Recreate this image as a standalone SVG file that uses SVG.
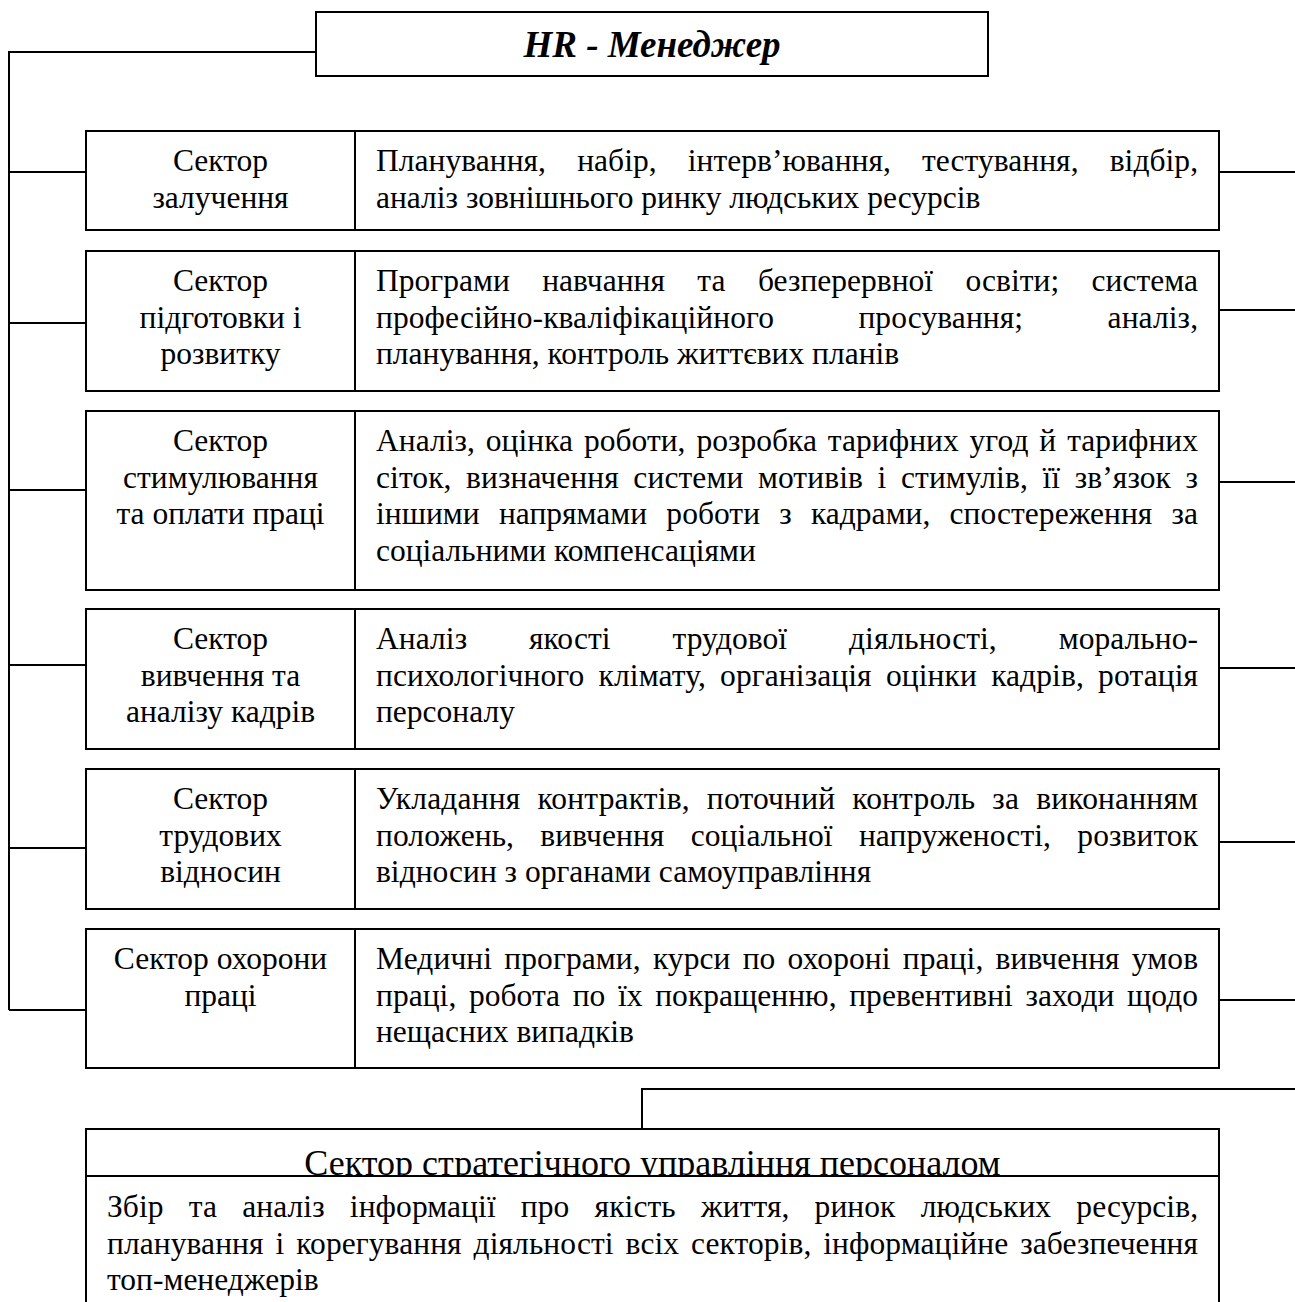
<svg xmlns="http://www.w3.org/2000/svg" width="1295" height="1302" viewBox="0 0 1295 1302">
<style>
.bx{fill:#fff;stroke:#000;stroke-width:2}
.ln{fill:none;stroke:#000;stroke-width:2}
.cn{fill:none;stroke:#000;stroke-width:2}
text{font-family:"Liberation Serif","Times New Roman",serif;font-size:31.5px;fill:#000}
.c{text-anchor:middle}
.hr{font-weight:bold;font-style:italic;font-size:37px}
.h2{font-size:36px}
</style>
<defs>
<clipPath id="hclip"><rect x="86" y="1129" width="1133" height="47"/></clipPath>
</defs>
<rect width="1295" height="1302" fill="#fff"/>
<g id="connectors">
<polyline class="cn" points="316,52 9,52 9,1010"/>
<line class="cn" x1="9" y1="172" x2="86" y2="172"/>
<line class="cn" x1="9" y1="323" x2="86" y2="323"/>
<line class="cn" x1="9" y1="490" x2="86" y2="490"/>
<line class="cn" x1="9" y1="665" x2="86" y2="665"/>
<line class="cn" x1="9" y1="848" x2="86" y2="848"/>
<line class="cn" x1="9" y1="1010" x2="86" y2="1010"/>
<line class="cn" x1="1219" y1="172" x2="1295" y2="172"/>
<line class="cn" x1="1219" y1="310" x2="1295" y2="310"/>
<line class="cn" x1="1219" y1="482" x2="1295" y2="482"/>
<line class="cn" x1="1219" y1="668" x2="1295" y2="668"/>
<line class="cn" x1="1219" y1="842" x2="1295" y2="842"/>
<line class="cn" x1="1219" y1="1000" x2="1295" y2="1000"/>
<polyline class="cn" points="1295,1089 642,1089 642,1129"/>
</g>
<g id="hr-manager">
<rect class="bx" x="316" y="12" width="672" height="64"/>
<text class="hr c" x="652" y="57">HR - Менеджер</text>
</g>
<g id="sector-1">
<rect class="bx" x="86" y="131" width="1133" height="99"/>
<line class="ln" x1="355" y1="131" x2="355" y2="230"/>
<text class="c" x="220.5" y="171">Сектор</text>
<text class="c" x="220.5" y="207.5">залучення</text>
<text x="376" y="171" word-spacing="23.2" textLength="822" lengthAdjust="spacing">Планування, набір, інтерв’ювання, тестування, відбір,</text>
<text x="376" y="207.5">аналіз зовнішнього ринку людських ресурсів</text>
</g>
<g id="sector-2">
<rect class="bx" x="86" y="251" width="1133" height="140"/>
<line class="ln" x1="355" y1="251" x2="355" y2="391"/>
<text class="c" x="220.5" y="291">Сектор</text>
<text class="c" x="220.5" y="327.5">підготовки і</text>
<text class="c" x="220.5" y="364">розвитку</text>
<text x="376" y="291" word-spacing="24.5" textLength="822" lengthAdjust="spacing">Програми навчання та безперервної освіти; система</text>
<text x="376" y="327.5" word-spacing="76.4" textLength="822" lengthAdjust="spacing">професійно-кваліфікаційного просування; аналіз,</text>
<text x="376" y="364">планування, контроль життєвих планів</text>
</g>
<g id="sector-3">
<rect class="bx" x="86" y="411" width="1133" height="179"/>
<line class="ln" x1="355" y1="411" x2="355" y2="590"/>
<text class="c" x="220.5" y="451">Сектор</text>
<text class="c" x="220.5" y="487.5">стимулювання</text>
<text class="c" x="220.5" y="524">та оплати праці</text>
<text x="376" y="451" word-spacing="3" textLength="822" lengthAdjust="spacing">Аналіз, оцінка роботи, розробка тарифних угод й тарифних</text>
<text x="376" y="487.5" word-spacing="6.6" textLength="822" lengthAdjust="spacing">сіток, визначення системи мотивів і стимулів, її зв’язок з</text>
<text x="376" y="524" word-spacing="11.3" textLength="822" lengthAdjust="spacing">іншими напрямами роботи з кадрами, спостереження за</text>
<text x="376" y="560.5">соціальними компенсаціями</text>
</g>
<g id="sector-4">
<rect class="bx" x="86" y="609" width="1133" height="140"/>
<line class="ln" x1="355" y1="609" x2="355" y2="749"/>
<text class="c" x="220.5" y="649">Сектор</text>
<text class="c" x="220.5" y="685.5">вивчення та</text>
<text class="c" x="220.5" y="722">аналізу кадрів</text>
<text x="376" y="649" word-spacing="53.9" textLength="822" lengthAdjust="spacing">Аналіз якості трудової діяльності, морально-</text>
<text x="376" y="685.5" word-spacing="6.3" textLength="822" lengthAdjust="spacing">психологічного клімату, організація оцінки кадрів, ротація</text>
<text x="376" y="722">персоналу</text>
</g>
<g id="sector-5">
<rect class="bx" x="86" y="769" width="1133" height="140"/>
<line class="ln" x1="355" y1="769" x2="355" y2="909"/>
<text class="c" x="220.5" y="809">Сектор</text>
<text class="c" x="220.5" y="845.5">трудових</text>
<text class="c" x="220.5" y="882">відносин</text>
<text x="376" y="809" word-spacing="8.9" textLength="822" lengthAdjust="spacing">Укладання контрактів, поточний контроль за виконанням</text>
<text x="376" y="845.5" word-spacing="18.3" textLength="822" lengthAdjust="spacing">положень, вивчення соціальної напруженості, розвиток</text>
<text x="376" y="882">відносин з органами самоуправління</text>
</g>
<g id="sector-6">
<rect class="bx" x="86" y="929" width="1133" height="139"/>
<line class="ln" x1="355" y1="929" x2="355" y2="1068"/>
<text class="c" x="220.5" y="969">Сектор охорони</text>
<text class="c" x="220.5" y="1005.5">праці</text>
<text x="376" y="969" word-spacing="4.2" textLength="822" lengthAdjust="spacing">Медичні програми, курси по охороні праці, вивчення умов</text>
<text x="376" y="1005.5" word-spacing="4.7" textLength="822" lengthAdjust="spacing">праці, робота по їх покращенню, превентивні заходи щодо</text>
<text x="376" y="1042">нещасних випадків</text>
</g>
<g id="strategic-sector">
<path class="bx" d="M86,1302 V1129 H1219 V1302"/>
<text class="h2 c" x="652.5" y="1175" clip-path="url(#hclip)">Сектор стратегічного управління персоналом</text>
<line class="ln" x1="86" y1="1176" x2="1219" y2="1176"/>
<text x="107" y="1217" word-spacing="17.2" textLength="1091" lengthAdjust="spacing">Збір та аналіз інформації про якість життя, ринок людських ресурсів,</text>
<text x="107" y="1253.5" word-spacing="4" textLength="1091" lengthAdjust="spacing">планування і корегування діяльності всіх секторів, інформаційне забезпечення</text>
<text x="107" y="1290">топ-менеджерів</text>
</g>
</svg>
